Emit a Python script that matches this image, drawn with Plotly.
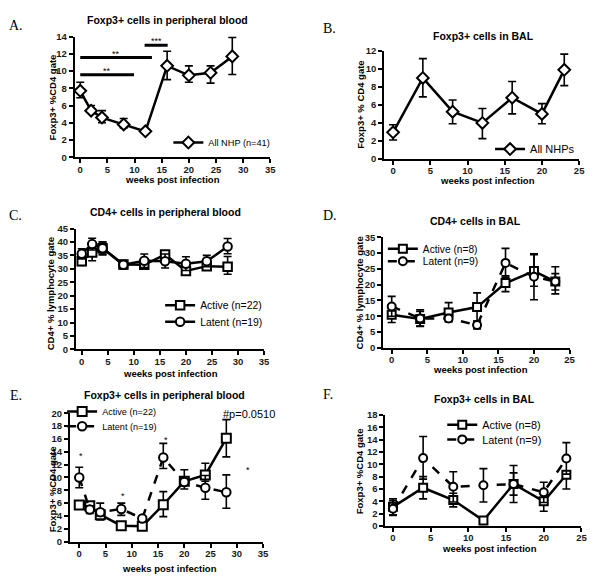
import plotly.graph_objects as go

W, H = 600, 583
OFF = 8                      # page body margin in the browser
FW, FH = W - OFF, H - OFF    # figure size so that it ends at the window edge
FONT = "Liberation Sans, Arial, sans-serif"

# ---------------- data ----------------
# A: Foxp3+ in peripheral blood, all NHP
weeks_A = [0, 2, 4, 8, 12, 16, 20, 24, 28]
all_A = [7.7, 5.4, 4.6, 3.8, 3.0, 10.6, 9.5, 9.8, 11.7]
all_A_hi = [8.7, 6.0, 5.4, 4.5, 3.0, 12.3, 10.6, 10.6, 13.9]
all_A_lo = [6.9, 5.2, 4.0, 3.4, 3.0, 9.0, 8.7, 8.6, 9.6]
sig_x0 = [0, 0, 11.85]
sig_x1 = [13.2, 9.9, 16.1]
sig_y = [11.57, 9.56, 13.0]
sig_lab = ["**", "**", "***"]

# B: Foxp3+ in BAL, all NHPs
weeks_B = [0, 4, 8, 12, 16, 20, 23]
all_B = [2.95, 9.0, 5.25, 4.0, 6.8, 5.0, 9.9]
all_B_hi = [3.8, 11.15, 6.55, 5.6, 8.6, 6.15, 11.65]
all_B_lo = [2.1, 6.9, 3.9, 2.25, 5.0, 3.9, 8.15]

# C: CD4+ in peripheral blood
weeks_C = [0, 2, 4, 8, 12, 16, 20, 24, 28]
act_C = [32.8, 36.1, 37.7, 31.6, 31.5, 35.3, 29.2, 31.0, 30.8]
act_C_hi = [34.3, 40.0, 40.0, 33.1, 33.0, 36.5, 30.4, 32.2, 34.6]
act_C_lo = [31.3, 33.0, 35.2, 30.1, 30.0, 33.8, 28.0, 29.8, 28.0]
lat_C = [35.6, 39.2, 37.7, 31.5, 33.0, 32.8, 31.9, 32.8, 38.3]
lat_C_hi = [37.5, 41.4, 40.0, 33.0, 35.5, 35.5, 34.5, 35.0, 41.3]
lat_C_lo = [33.7, 37.0, 35.5, 30.0, 30.5, 30.3, 29.4, 30.8, 35.6]

# D: CD4+ in BAL
weeks_D = [0, 4, 8, 12, 16, 20, 23]
act_D = [10.5, 9.1, 11.2, 12.9, 20.5, 24.3, 21.0]
act_D_hi = [12.5, 11.5, 14.3, 17.4, 22.8, 29.8, 23.5]
act_D_lo = [8.0, 6.9, 8.6, 8.5, 17.8, 19.5, 18.3]
lat_D = [13.1, 9.3, 9.3, 7.2, 26.9, 22.5, 21.0]
lat_D_hi = [16.3, 12.0, 10.5, 8.4, 31.5, 29.5, 25.7]
lat_D_lo = [10.0, 6.8, 8.2, 6.0, 22.3, 15.2, 17.1]

# E: Foxp3+ in peripheral blood, active vs latent
weeks_E = [0, 2, 4, 8, 12, 16, 20, 24, 28]
act_E = [5.7, 5.6, 4.2, 2.5, 2.4, 5.75, 9.4, 10.4, 16.1]
act_E_hi = [6.2, 6.1, 5.0, 2.9, 2.8, 7.8, 10.1, 12.2, 19.0]
act_E_lo = [5.2, 5.1, 3.4, 2.2, 2.1, 3.9, 8.8, 9.4, 13.2]
lat_E = [10.0, 5.0, 4.6, 5.1, 3.6, 13.1, 9.3, 8.4, 7.7]
lat_E_hi = [11.6, 5.6, 6.0, 6.0, 3.9, 15.3, 11.2, 10.3, 10.4]
lat_E_lo = [8.4, 4.4, 4.0, 4.1, 3.3, 11.4, 8.2, 6.6, 5.2]
star_E_x = [0.3, 8.3, 16.45, 32.2]
star_E_y = [13.6, 7.4, 16.2, 11.5]

# F: Foxp3+ in BAL, active vs latent
weeks_F = [0, 4, 8, 12, 16, 20, 23]
act_F = [3.1, 6.2, 4.2, 0.9, 6.8, 4.0, 8.3]
act_F_hi = [4.4, 8.0, 5.3, 0.9, 8.6, 5.3, 8.8]
act_F_lo = [1.8, 4.4, 3.1, 0.9, 5.0, 2.4, 6.0]
lat_F = [2.8, 11.0, 6.35, 6.6, 6.8, 5.45, 10.95]
lat_F_hi = [4.1, 14.5, 8.8, 9.3, 9.8, 7.1, 13.5]
lat_F_lo = [1.7, 7.6, 3.9, 3.9, 3.8, 3.8, 8.4]

# ---------------- helpers ----------------
def px(x):
    return (x - OFF) / FW

def py(y):
    return 1 - (y - OFF) / FH

fig = go.Figure()

def series(ax, xs, ys, hi, lo, name, symbol, size, dash, legend):
    fig.add_trace(go.Scatter(
        x=xs, y=ys, name=name, mode="lines+markers",
        xaxis="x" + ax, yaxis="y" + ax,
        line=dict(color="black", width=2.5, dash=dash),
        marker=dict(symbol=symbol, size=size, color="white",
                    line=dict(color="black", width=2)),
        error_y=dict(type="data", symmetric=False,
                     array=[h - v for h, v in zip(hi, ys)],
                     arrayminus=[v - l for v, l in zip(ys, lo)],
                     color="black", thickness=1.6, width=4),
        legend=legend, showlegend=True,
    ))

series("", weeks_A, all_A, all_A_hi, all_A_lo, "All NHP (n=41)", "diamond", 9, "solid", "legend")
series("2", weeks_B, all_B, all_B_hi, all_B_lo, "All NHPs", "diamond", 9, "solid", "legend2")
series("3", weeks_C, act_C, act_C_hi, act_C_lo, "Active (n=22)", "square", 8.5, "solid", "legend3")
series("3", weeks_C, lat_C, lat_C_hi, lat_C_lo, "Latent (n=19)", "circle", 8.5, "solid", "legend4")
series("4", weeks_D, act_D, act_D_hi, act_D_lo, "Active (n=8)", "square", 8, "solid", "legend5")
series("4", weeks_D, lat_D, lat_D_hi, lat_D_lo, "Latent (n=9)", "circle", 8, "dash", "legend6")
series("5", weeks_E, act_E, act_E_hi, act_E_lo, "Active (n=22)", "square", 9, "solid", "legend7")
series("5", weeks_E, lat_E, lat_E_hi, lat_E_lo, "Latent (n=19)", "circle", 8.5, "dash", "legend8")
series("6", weeks_F, act_F, act_F_hi, act_F_lo, "Active (n=8)", "square", 8, "solid", "legend9")
series("6", weeks_F, lat_F, lat_F_hi, lat_F_lo, "Latent (n=9)", "circle", 8, "dash", "legend10")

tickfont = dict(family=FONT, size=9.5, color="#1a1a1a", weight="bold")

def xaxis(dom, rng, dtick, anchor):
    return dict(domain=dom, range=rng, dtick=dtick, tick0=0, anchor=anchor,
                showline=True, linecolor="black", linewidth=2, ticks="outside",
                ticklen=4, tickwidth=2, tickcolor="black", showgrid=False,
                zeroline=False, tickfont=tickfont, ticklabelstandoff=-2)

def yaxis(dom, rng, dtick, anchor):
    return dict(domain=dom, range=rng, dtick=dtick, tick0=0, anchor=anchor,
                showline=True, linecolor="black", linewidth=2, ticks="outside",
                ticklen=4, tickwidth=2, tickcolor="black", showgrid=False,
                zeroline=False, tickfont=tickfont, ticklabelstandoff=0)

panels = {
    # key: (x px span, x range, y px span (bottom, top), y range, y dtick, x dtick)
    "":  ((75.5, 273), [-1, 35], (154, 31), [0, 14], 2, 5),
    "2": ((388, 585), [-1.2, 25], (155.7, 45.7), [0, 12], 2, 5),
    "3": ((76.7, 266.7), [-1.1, 35], (350, 226.7), [0, 45], 5, 5),
    "4": ((387, 575.3), [-1.2, 25], (348.3, 235.7), [0, 35], 5, 5),
    "5": ((70.7, 265.7), [-1.75, 35], (546, 415), [0, 20], 2, 5),
    "6": ((389.3, 587.3), [-1, 25], (530, 416.7), [0, 18], 2, 5),
}
layout_axes = {}
for k, (xd, xr, yd, yr, ydt, xdt) in panels.items():
    layout_axes["xaxis" + k] = xaxis([px(xd[0]), px(xd[1])], xr, xdt, "y" + k)
    layout_axes["yaxis" + k] = yaxis([py(yd[0]), py(yd[1])], yr, ydt, "x" + k)

ann = []
def text(t, x, y, size, bold=True, angle=0, family=FONT, xanchor="center"):
    ann.append(dict(text=t, x=px(x), y=py(y), xref="paper", yref="paper",
                    showarrow=False, textangle=angle, xanchor=xanchor, yanchor="middle",
                    font=dict(family=family, size=size, color="black",
                              weight="bold" if bold else "normal")))

SERIF = "Liberation Serif, Times New Roman, serif"
for lab, x, y in [("A.", 16, 20), ("B.", 333, 22.5), ("C.", 16, 213),
                  ("D.", 333, 213), ("E.", 16, 397), ("F.", 331, 396)]:
    text(lab, x, y, 14, bold=False, family=SERIF)

for t, x, y in [("Foxp3+ cells in peripheral blood", 169, 14),
                ("Foxp3+ cells in BAL", 488, 30),
                ("CD4+ cells in peripheral blood", 167.5, 210),
                ("CD4+ cells in BAL", 480, 219),
                ("Foxp3+ cells in peripheral blood", 166, 396),
                ("Foxp3+ cells in BAL", 489, 400)]:
    text(t, x, y, 10.5)

for x, y in [(174, 177), (492, 177.5), (172, 375), (485, 370.5), (171, 573), (494, 553)]:
    text("weeks post infection", x, y, 9.5)

for t, x, y in [("Foxp3+ %CD4 gate", 52.5, 93), ("Foxp3+ % CD4 gate", 364.5, 100.7),
                ("CD4+ % lymphocyte gate", 50.5, 293.7), ("CD4+ % lymphocyte gate", 363.5, 292),
                ("Foxp3+ %CD4 gate", 52.5, 492.5), ("Foxp3+ %CD4 gate", 363, 473.8)]:
    text(t, x, y, 9.5, angle=-90)

# significance markers panel A
shapes = []
for x0, x1, y, lab in zip(sig_x0, sig_x1, sig_y, sig_lab):
    shapes.append(dict(type="line", xref="x", yref="y", x0=x0, x1=x1, y0=y, y1=y,
                       line=dict(color="black", width=3)))
    ann.append(dict(text=lab, x=(x0 + x1) / 2, y=y, xref="x", yref="y", showarrow=False,
                    yanchor="bottom", yshift=-3,
                    font=dict(family=FONT, size=9, color="black")))

# stars panel E
for x, y in zip(star_E_x, star_E_y):
    ann.append(dict(text="*", x=x, y=y, xref="x5", yref="y5", showarrow=False,
                    yanchor="middle", yshift=-2,
                    font=dict(family=FONT, size=9, color="black")))
ann.append(dict(text="#p=0.0510", x=px(251.7), y=py(415.7), xref="paper", yref="paper",
                showarrow=False, xanchor="center", yanchor="middle",
                font=dict(family=FONT, size=11, color="black")))

def leg(text_x, center_y, size):
    return dict(x=px(text_x - 40), y=py(center_y), xref="paper", yref="paper",
                xanchor="left", yanchor="middle",
                bgcolor="rgba(0,0,0,0)", borderwidth=0, itemwidth=30,
                font=dict(family=FONT, size=size, color="black"))

fig.update_layout(
    width=FW, height=FH, margin=dict(l=0, r=0, t=0, b=0),
    paper_bgcolor="white", plot_bgcolor="white",
    showlegend=True,
    legend=leg(210, 139, 9.2),
    legend2=leg(535, 145.7, 11),
    legend3=leg(201.7, 305, 10.4),
    legend4=leg(201.7, 321.7, 10.4),
    legend5=leg(426.7, 247.3, 10.2),
    legend6=leg(426.7, 260, 10.2),
    legend7=leg(102.7, 413.3, 9.1),
    legend8=leg(102.7, 428.3, 9.1),
    legend9=leg(486.7, 426.7, 10.9),
    legend10=leg(486.7, 441.7, 10.9),
    annotations=ann, shapes=shapes,
    **layout_axes,
)

fig.write_html("out.html")
